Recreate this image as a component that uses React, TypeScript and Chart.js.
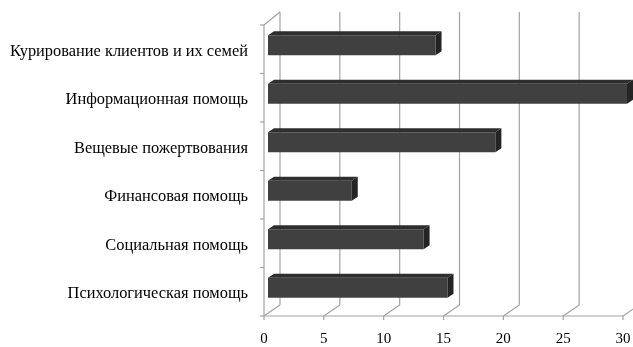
import { useEffect, useRef } from 'react';
import { Chart, registerables } from 'chart.js';

Chart.register(...registerables);

const categories = [
  'Курирование клиентов и их семей',
  'Информационная помощь',
  'Вещевые пожертвования',
  'Финансовая помощь',
  'Социальная помощь',
  'Психологическая помощь',
];
const counts = [14, 30, 19, 7, 13, 15];
const axisTicks = [0, 5, 10, 15, 20, 25, 30];

// 3D look: depth offsets of the back wall and of the bars
const WALL_DX = 16;
const WALL_DY_TOP = -13;
const WALL_DY_BOTTOM = -11;
const BAR_SHIFT_X = 4;
const BAR_SHIFT_Y = -4;
const BAR_DEPTH_X = 6;
const BAR_DEPTH_Y = -4;

const GRID_COLOR = '#a3a3a3';
const FRONT_COLOR = '#404040';
const TOP_COLOR = '#2e2e2e';
const SIDE_COLOR = '#242424';

const depthPlugin = {
  id: 'depthPlugin',
  beforeDatasetsDraw(chart: any) {
    const { ctx, chartArea: a, scales } = chart;
    const xs = scales.x;
    const ys = scales.y;
    const line = (x1: number, y1: number, x2: number, y2: number) => {
      ctx.beginPath();
      ctx.moveTo(x1, y1);
      ctx.lineTo(x2, y2);
      ctx.stroke();
    };
    ctx.save();
    ctx.strokeStyle = GRID_COLOR;
    ctx.lineWidth = 1.2;
    const backTop = a.top + WALL_DY_TOP;
    const backBottom = a.bottom + WALL_DY_BOTTOM;
    for (const v of axisTicks) {
      const px = xs.getPixelForValue(v);
      line(px + WALL_DX, backTop, px + WALL_DX, backBottom);
      line(px, a.bottom, px + WALL_DX, backBottom);
      line(px, a.bottom, px, a.bottom + 4);
    }
    // left wall front edge and its top
    line(a.left, a.top, a.left, a.bottom);
    line(a.left, a.top, a.left + WALL_DX, backTop);
    // front floor edge
    line(a.left, a.bottom, a.right, a.bottom);
    // category separators on the left edge
    const n = categories.length;
    for (let i = 0; i <= n; i++) {
      let y: number;
      if (i === 0) y = a.top;
      else if (i === n) y = a.bottom;
      else y = (ys.getPixelForValue(i - 1) + ys.getPixelForValue(i)) / 2;
      line(a.left - 4, y, a.left, y);
    }
    ctx.restore();
    ctx.save();
    ctx.translate(BAR_SHIFT_X, BAR_SHIFT_Y);
  },
  afterDatasetsDraw(chart: any) {
    const { ctx } = chart;
    const meta = chart.getDatasetMeta(0);
    for (const bar of meta.data) {
      const { x, y, base, height } = bar.getProps(['x', 'y', 'base', 'height'], true);
      const top = y - height / 2;
      const bottom = y + height / 2;
      // top face
      ctx.fillStyle = TOP_COLOR;
      ctx.beginPath();
      ctx.moveTo(base, top);
      ctx.lineTo(base + BAR_DEPTH_X, top + BAR_DEPTH_Y);
      ctx.lineTo(x + BAR_DEPTH_X, top + BAR_DEPTH_Y);
      ctx.lineTo(x, top);
      ctx.closePath();
      ctx.fill();
      // right face
      ctx.fillStyle = SIDE_COLOR;
      ctx.beginPath();
      ctx.moveTo(x, top);
      ctx.lineTo(x + BAR_DEPTH_X, top + BAR_DEPTH_Y);
      ctx.lineTo(x + BAR_DEPTH_X, bottom + BAR_DEPTH_Y);
      ctx.lineTo(x, bottom);
      ctx.closePath();
      ctx.fill();
    }
    ctx.restore();
  },
};

export default function App() {
  const ref = useRef<HTMLCanvasElement | null>(null);

  useEffect(() => {
    if (!ref.current) return;
    const chart = new Chart(ref.current, {
      type: 'bar',
      data: {
        labels: categories,
        datasets: [
          {
            data: counts,
            backgroundColor: FRONT_COLOR,
            borderWidth: 0,
            categoryPercentage: 1,
            barPercentage: 0.41,
            clip: false as any,
          },
        ],
      },
      options: {
        indexAxis: 'y',
        animation: false,
        responsive: false,
        maintainAspectRatio: false,
        layout: { padding: { top: 25, right: 10, left: 0, bottom: 0 } },
        plugins: {
          legend: { display: false },
          tooltip: { enabled: false },
        },
        scales: {
          x: {
            min: 0,
            max: 30,
            grid: { display: false },
            border: { display: false },
            afterFit: (s: any) => {
              s.height = 31;
              s.paddingLeft = 0;
              s.paddingRight = 0;
            },
            afterBuildTicks: (s: any) => {
              s.ticks = axisTicks.map((v) => ({ value: v }));
            },
            ticks: {
              color: '#000',
              padding: 6,
              font: { family: 'Liberation Serif', size: 15 },
            },
          },
          y: {
            grid: { display: false },
            border: { display: false },
            afterFit: (s: any) => {
              s.width = 264;
              s.paddingTop = 0;
              s.paddingBottom = 0;
            },
            ticks: {
              color: '#000',
              padding: 8,
              labelOffset: 2,
              font: { family: 'Liberation Serif', size: 16.4 },
            },
          },
        },
      },
      plugins: [depthPlugin],
    });
    return () => chart.destroy();
  }, []);

  return (
    <div style={{ position: 'fixed', left: 0, top: 0, width: 633, height: 347, background: '#fff' }}>
      <canvas ref={ref} width={633} height={347} />
    </div>
  );
}
